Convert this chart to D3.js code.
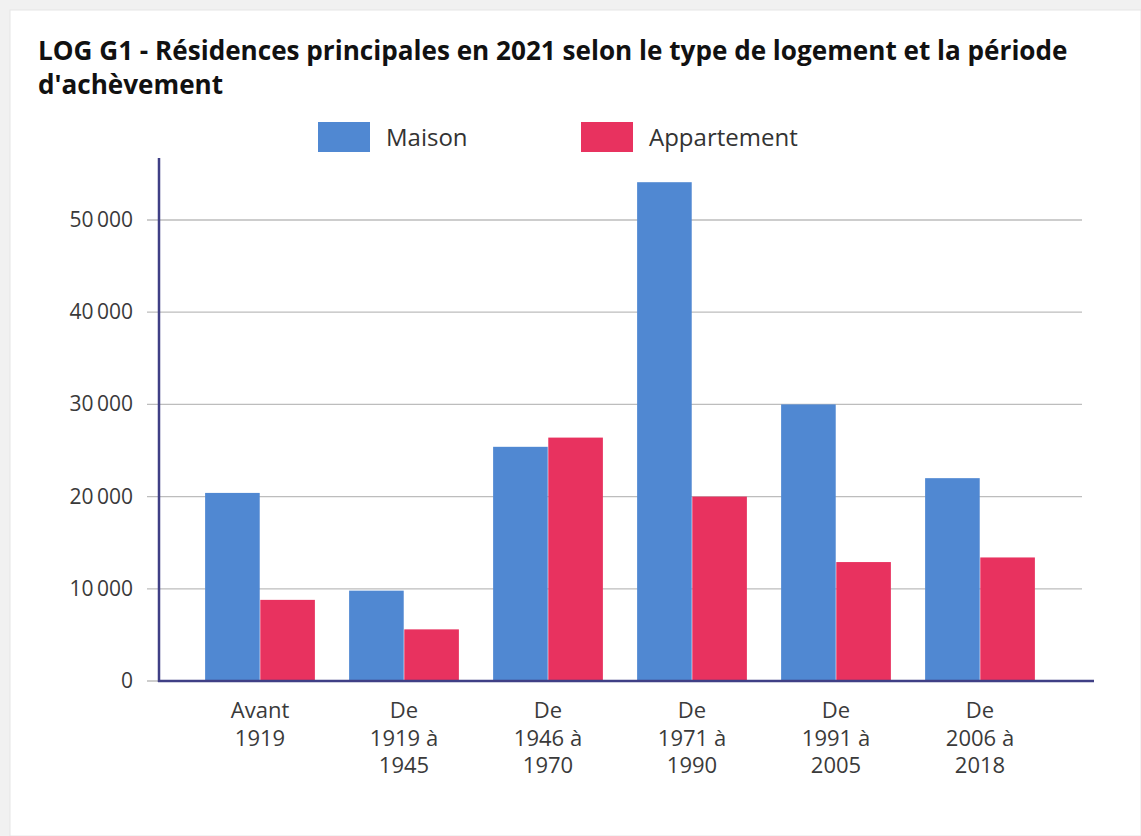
<!DOCTYPE html>
<html>
<head>
<meta charset="utf-8">
<script src="https://cdn.jsdelivr.net/npm/d3@7"></script>
<style>
  body { margin: 0; background: #f1f1f1; }
  svg { display: block; font-family: "Open Sans", sans-serif; }
</style>
</head>
<body>
<svg></svg>
<script>
var periodes = [
  ["Avant", "1919"],
  ["De", "1919 à", "1945"],
  ["De", "1946 à", "1970"],
  ["De", "1971 à", "1990"],
  ["De", "1991 à", "2005"],
  ["De", "2006 à", "2018"]
];
var series = ["Maison", "Appartement"];
var maison = [20400, 9800, 25400, 54100, 30000, 22000];
var appartement = [8800, 5600, 26400, 20000, 12900, 13400];
var yTicks = [0, 10000, 20000, 30000, 40000, 50000];
var colors = ["#5088d2", "#e8325f"];

var svg = d3.select("svg")
    .attr("width", 1141)
    .attr("height", 836);

var width = +svg.attr("width");
var height = +svg.attr("height");

// carte blanche
svg.append("rect")
    .attr("x", 10).attr("y", 10)
    .attr("width", width - 10).attr("height", height - 10)
    .attr("fill", "#fff")
    .attr("stroke", "#e6e6e6");

var title = svg.append("g")
    .attr("font-weight", "bold").attr("fill", "#111");
var t1 = title.append("text")
    .attr("x", 38).attr("y", 60)
    .attr("font-size", 26)
    .text("LOG G1 - Résidences principales en 2021 selon le type de logement et la période");
// ajuster la taille pour que la ligne tienne sur la largeur de la carte
var fs = 26 * 1030 / t1.node().getComputedTextLength();
t1.attr("font-size", fs);
title.append("text")
    .attr("x", 38).attr("y", 94)
    .attr("font-size", fs)
    .text("d'achèvement");

var data = periodes.map((p, i) => ({ label: p, values: [maison[i], appartement[i]] }));

var x = d3.scaleBand()
    .domain(d3.range(periodes.length))
    .range([188, 1052])
    .paddingInner(0.23)
    .paddingOuter(0.115);

var xs = d3.scaleBand()
    .domain(d3.range(series.length))
    .range([0, x.bandwidth()])
    .padding(0.01);

var y = d3.scaleLinear()
    .domain([0, 50000])
    .range([681, 220]);

var fr = d3.formatLocale({ decimal: ",", thousands: "\u2009", grouping: [3], currency: ["", ""] });

// grille
svg.append("g")
    .selectAll("line")
    .data(yTicks)
    .enter()
    .append("line")
    .attr("x1", 147).attr("x2", 1082)
    .attr("y1", d => y(d)).attr("y2", d => y(d))
    .attr("stroke", "#bdbdbd").attr("stroke-width", 1.3);

svg.append("g")
    .selectAll("text")
    .data(yTicks)
    .enter()
    .append("text")
    .attr("x", 133)
    .attr("y", d => y(d))
    .attr("dy", "0.33em")
    .attr("text-anchor", "end")
    .attr("font-size", 21)
    .attr("fill", "#3a3a3a")
    .text(d => fr.format(",")(d));

// barres
var groups = svg.append("g")
    .selectAll("g")
    .data(data)
    .enter()
    .append("g")
    .attr("transform", (d, i) => `translate(${x(i)},0)`);

groups.selectAll("rect")
    .data(d => d.values)
    .enter()
    .append("rect")
    .attr("x", (d, j) => xs(j))
    .attr("width", xs.bandwidth())
    .attr("y", d => y(d))
    .attr("height", d => y(0) - y(d))
    .attr("fill", (d, j) => colors[j]);

// axes
svg.append("line")
    .attr("x1", 159).attr("x2", 159)
    .attr("y1", 158).attr("y2", 682)
    .attr("stroke", "#3f3f85").attr("stroke-width", 2.5);
svg.append("line")
    .attr("x1", 158).attr("x2", 1094)
    .attr("y1", 681).attr("y2", 681)
    .attr("stroke", "#3f3f85").attr("stroke-width", 2.5);

// etiquettes x
groups.append("text")
    .attr("x", x.bandwidth() / 2)
    .attr("y", 718)
    .attr("text-anchor", "middle")
    .attr("font-size", 22)
    .attr("fill", "#3a3a3a")
    .selectAll("tspan")
    .data(d => d.label)
    .enter()
    .append("tspan")
    .attr("x", x.bandwidth() / 2)
    .attr("dy", (d, k) => k === 0 ? 0 : 27.5)
    .text(d => d);

// legende
var legend = svg.append("g")
    .selectAll("g")
    .data(series)
    .enter()
    .append("g")
    .attr("transform", (d, i) => `translate(${318 + i * 263},122)`);

legend.append("rect")
    .attr("width", 52).attr("height", 30)
    .attr("fill", (d, i) => colors[i]);

legend.append("text")
    .attr("x", 68).attr("y", 24)
    .attr("font-size", 24)
    .attr("fill", "#333")
    .text(d => d);
</script>
</body>
</html>
